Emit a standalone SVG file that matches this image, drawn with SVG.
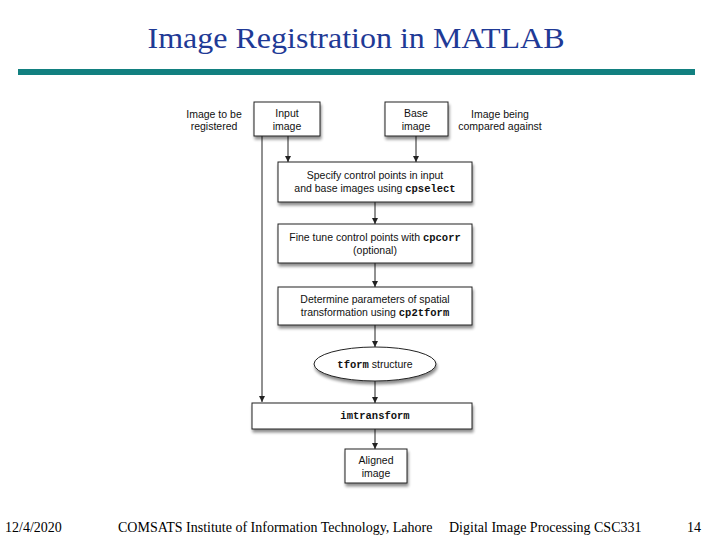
<svg xmlns="http://www.w3.org/2000/svg" width="720" height="540" viewBox="0 0 720 540">
<style>
.t{font-family:"Liberation Sans",Arial,sans-serif;font-size:10.5px;fill:#111;text-anchor:middle}
.m{font-family:"Liberation Mono","Courier New",monospace;font-weight:bold;font-size:10.5px}
.b{fill:#fff;stroke:#222;stroke-width:1;filter:url(#sh)}
.c{stroke:#222;stroke-width:1;fill:none;marker-end:url(#ah)}
.f{font-family:"Liberation Serif","Times New Roman",serif;font-size:14px;fill:#000}
.title{font-family:"Liberation Serif","Times New Roman",serif;font-size:30px;fill:#1f3a96;text-anchor:middle}
</style>
<defs>
<filter id="sh" x="-10%" y="-10%" width="130%" height="140%">
<feGaussianBlur in="SourceAlpha" stdDeviation="1.5"/>
<feOffset dx="1" dy="2.5" result="o"/>
<feComponentTransfer><feFuncA type="linear" slope="0.45"/></feComponentTransfer>
<feMerge><feMergeNode/><feMergeNode in="SourceGraphic"/></feMerge>
</filter>
<marker id="ah" viewBox="0 0 10 10" refX="10" refY="5" markerWidth="6" markerHeight="6" orient="auto" markerUnits="userSpaceOnUse">
<path d="M0,0 L10,5 L0,10 z" fill="#222"/>
</marker>
</defs>
<rect width="720" height="540" fill="#fff"/>
<text class="title" x="356" y="48" textLength="417" lengthAdjust="spacingAndGlyphs">Image Registration in MATLAB</text>
<rect x="18" y="69" width="677" height="6" fill="#128080"/>

<g id="connectors">
<path class="c" d="M288,136 V162"/>
<path class="c" d="M416,136 V162"/>
<path class="c" d="M262,136 V402"/>
<path class="c" d="M375,202 V224"/>
<path class="c" d="M375,263 V287"/>
<path class="c" d="M375,325 V347"/>
<path class="c" d="M375,381 V403"/>
<path class="c" d="M375,429 V449"/>
</g>

<g id="label-input"><text class="t" x="214" y="118">Image to be</text><text class="t" x="214" y="130">registered</text></g>
<g id="label-base"><text class="t" x="500" y="118">Image being</text><text class="t" x="500" y="130">compared against</text></g>

<g id="input"><rect class="b" x="254" y="102" width="66" height="34"/><text class="t" x="287" y="117">Input</text><text class="t" x="287" y="130">image</text></g>
<g id="base"><rect class="b" x="385" y="102" width="63" height="34"/><text class="t" x="416" y="117">Base</text><text class="t" x="416" y="130">image</text></g>
<g id="specify"><rect class="b" x="278" y="162" width="194" height="40"/><text class="t" x="375" y="179">Specify control points in input</text><text class="t" x="375" y="192">and base images using <tspan class="m">cpselect</tspan></text></g>
<g id="finetune"><rect class="b" x="278" y="224" width="194" height="39"/><text class="t" x="375" y="241">Fine tune control points with <tspan class="m">cpcorr</tspan></text><text class="t" x="375" y="254">(optional)</text></g>
<g id="determine"><rect class="b" x="278" y="287" width="194" height="38"/><text class="t" x="375" y="303">Determine parameters of spatial</text><text class="t" x="375" y="316">transformation using <tspan class="m">cp2tform</tspan></text></g>
<g id="tform"><ellipse class="b" cx="375" cy="364" rx="61" ry="17"/><text class="t" x="375" y="368"><tspan class="m">tform</tspan> structure</text></g>
<g id="imtransform"><rect class="b" x="252" y="403" width="220" height="26"/><text class="t m" x="375" y="419">imtransform</text></g>
<g id="aligned"><rect class="b" x="345" y="449" width="62" height="34"/><text class="t" x="376" y="464">Aligned</text><text class="t" x="376" y="477">image</text></g>

<text class="f" x="5" y="532">12/4/2020</text>
<text class="f" x="118" y="532">COMSATS Institute of Information Technology, Lahore</text>
<text class="f" x="449" y="532">Digital Image Processing CSC331</text>
<text class="f" x="687" y="532">14</text>
</svg>
